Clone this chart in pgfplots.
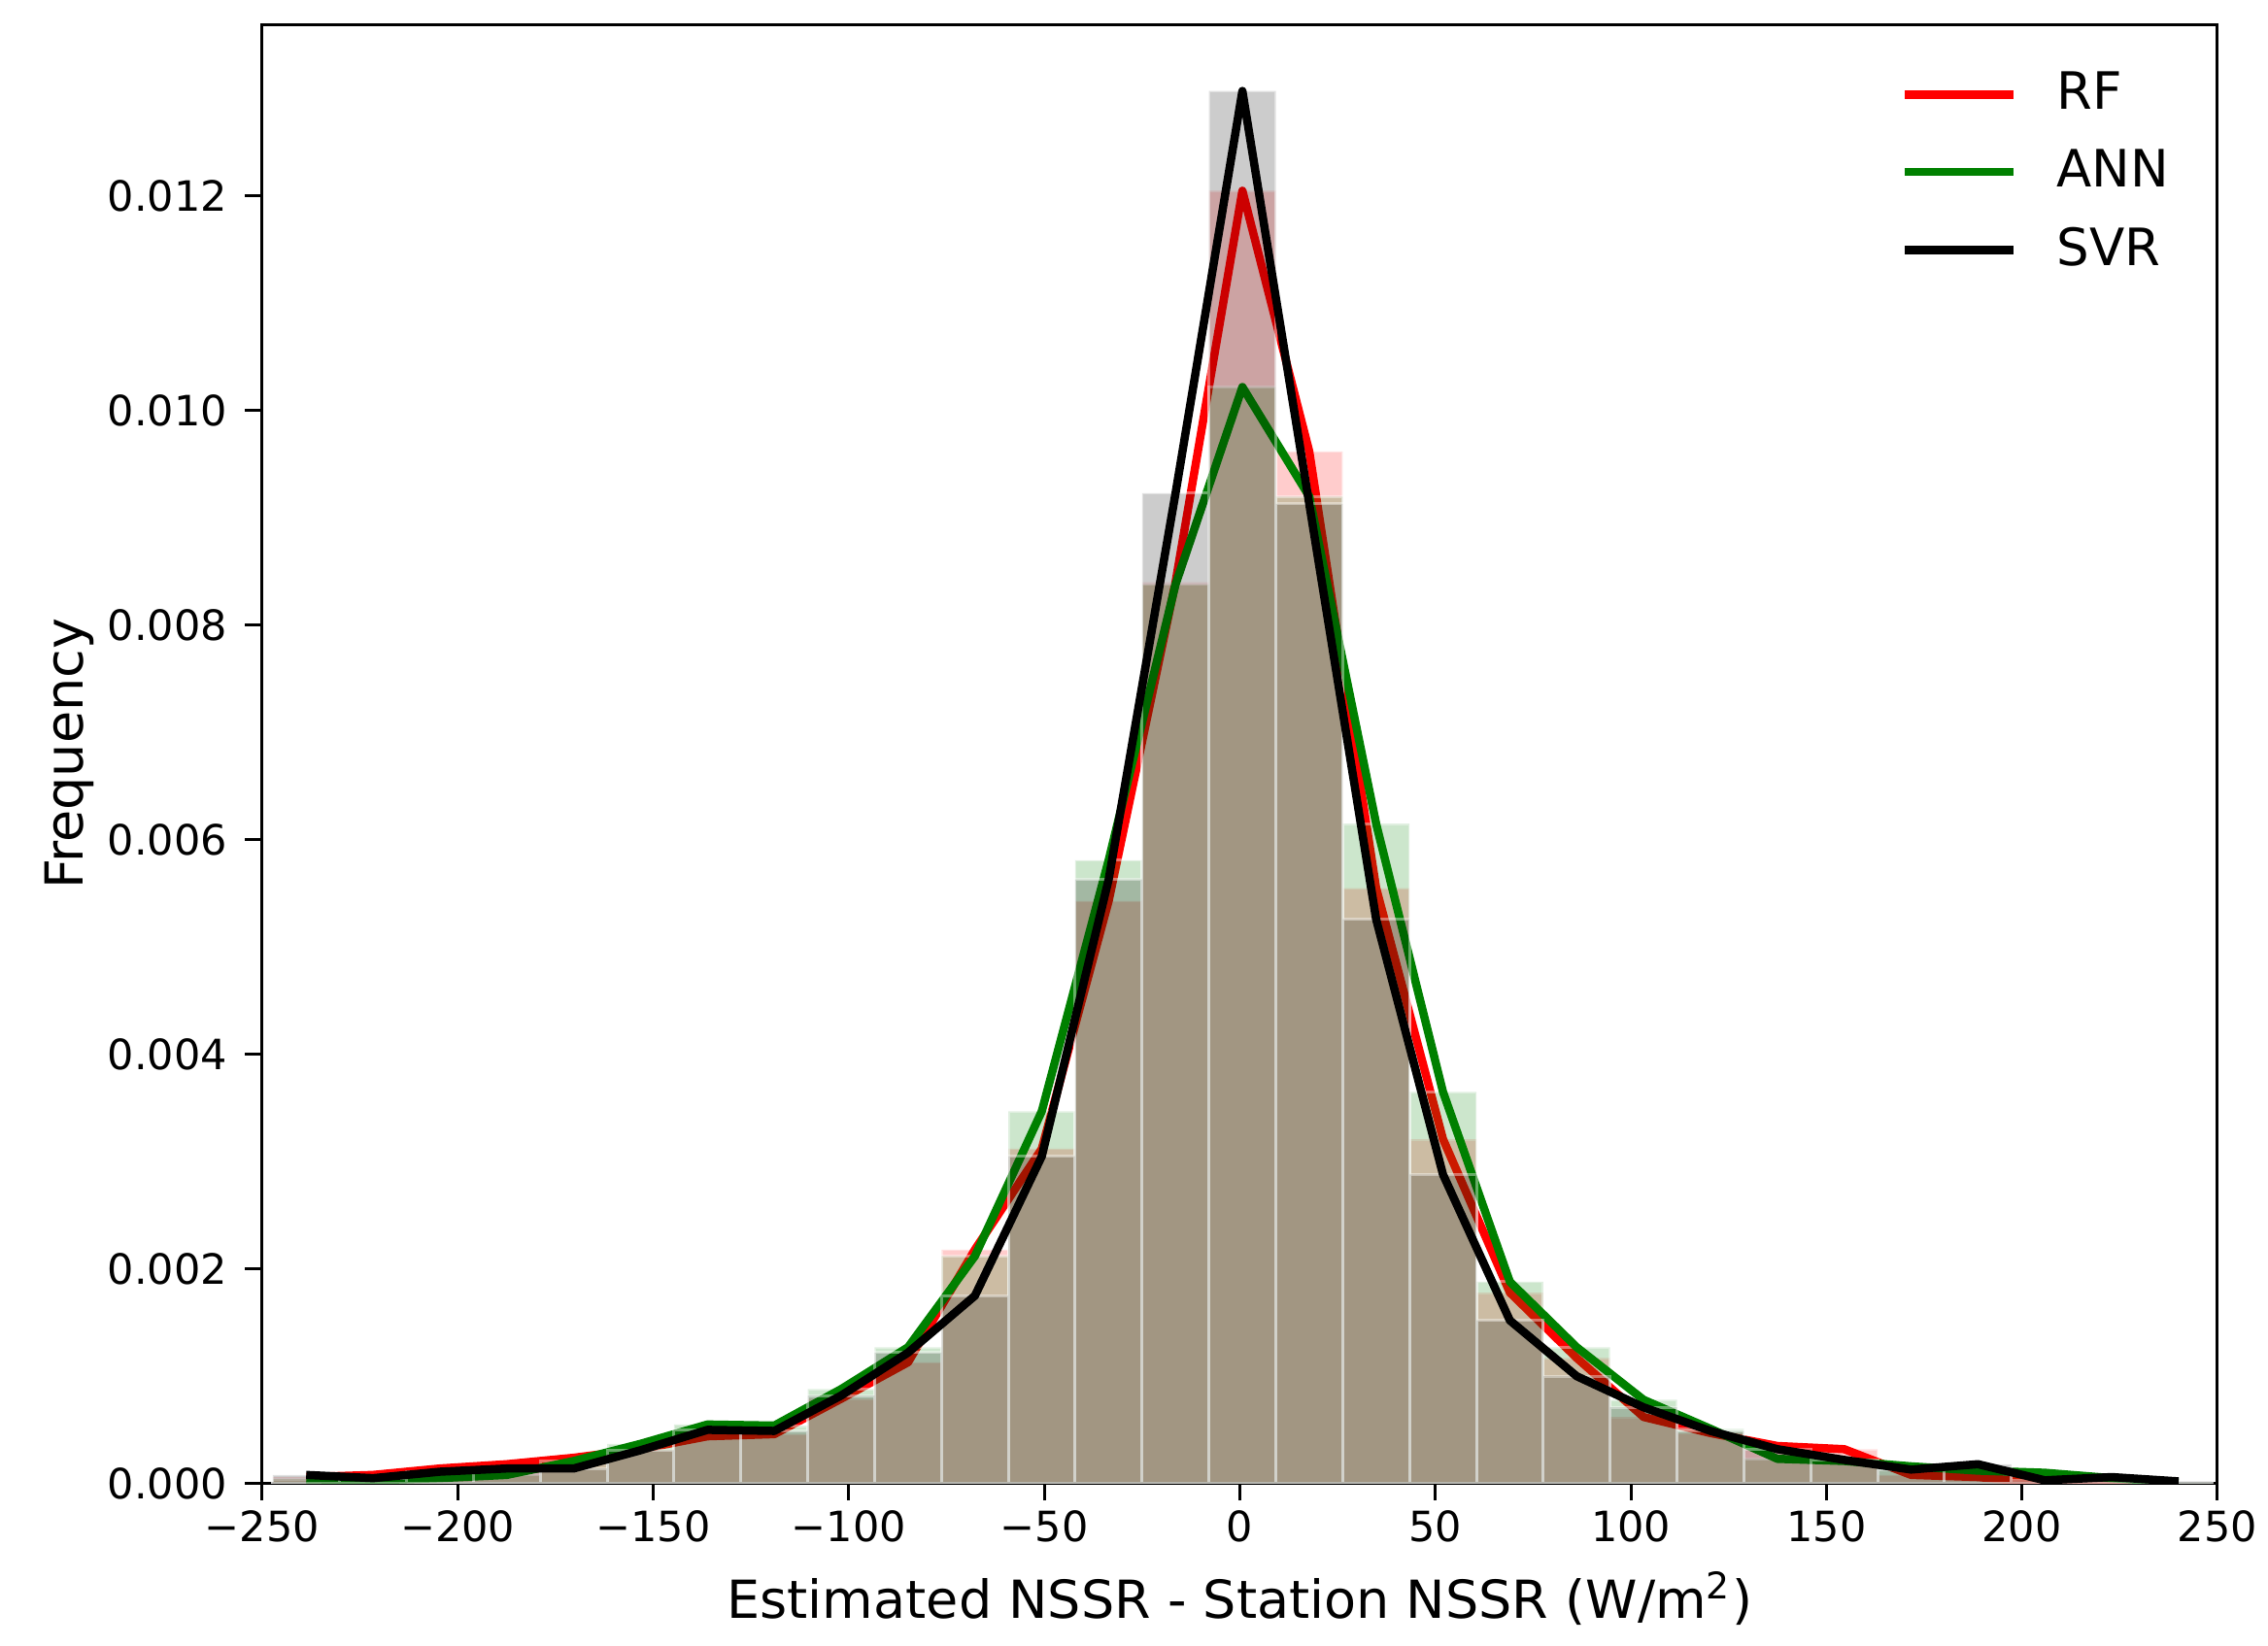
\documentclass[border=0pt]{standalone}
\usepackage{fontspec}
\setmainfont{DejaVu Sans}
\usepackage{pgfplots}
\usepackage{pgfplotstable}
\pgfplotsset{compat=1.18}
\definecolor{mplgreen}{RGB}{0,128,0}
\definecolor{mplred}{RGB}{255,0,0}

\pgfplotstableread{
x        rf       ann      svr
-238.75  0.00006  0.00004  0.00008
-221.65  0.00008  0.00003  0.00005
-204.55  0.00014  0.00005  0.00011
-187.45  0.00018  0.00008  0.00014
-170.35  0.00024  0.00021  0.00014
-153.25  0.00032  0.00037  0.00031
-136.15  0.00044  0.00055  0.00050
-119.05  0.00046  0.00054  0.00049
-101.95  0.00079  0.00088  0.00082
-84.85   0.00113  0.00127  0.00122
-67.75   0.00218  0.00212  0.00175
-50.65   0.00312  0.00347  0.00305
-33.55   0.00543  0.00581  0.00563
-16.45   0.00840  0.00838  0.00923
0.65     0.01205  0.01022  0.01298
17.75    0.00962  0.00920  0.00913
34.85    0.00555  0.00615  0.00526
51.95    0.00321  0.00365  0.00288
69.05    0.00178  0.00188  0.00152
86.15    0.00117  0.00127  0.00100
103.25   0.00062  0.00078  0.00071
120.35   0.00047  0.00051  0.00049
137.45   0.00035  0.00023  0.00032
154.55   0.00032  0.00021  0.00022
171.65   0.00008  0.00016  0.00013
188.75   0.00006  0.00012  0.00018
205.85   0.00000  0.00010  0.00003
222.95   0.00001  0.00005  0.00006
240.05   0.00000  0.00001  0.00002
}\datatable

\begin{document}
\begin{tikzpicture}
\useasboundingbox (0,0) rectangle (467pt,339pt);
\begin{axis}[
  at={(54pt,33.46pt)}, anchor=south west,
  scale only axis, width=402.6pt, height=300.5pt,
  xmin=-250, xmax=250, ymin=0, ymax=0.0136,
  scaled ticks=false,
  xtick={-250,-200,-150,-100,-50,0,50,100,150,200,250},
  xticklabels={−250,−200,−150,−100,−50,0,50,100,150,200,250},
  ytick={0,0.002,0.004,0.006,0.008,0.010,0.012},
  yticklabels={0.000,0.002,0.004,0.006,0.008,0.010,0.012},
  tick align=outside, xtick pos=bottom, ytick pos=left,
  major tick length=3.5pt,
  tick style={line width=0.6pt, black},
  axis line style={line width=0.6pt, black},
  xticklabel style={font=\fontsize{8.6}{10}\selectfont, inner sep=0pt, anchor=north, yshift=-1.8pt},
  yticklabel style={font=\fontsize{8.6}{10}\selectfont, inner sep=0pt, anchor=east, xshift=-3.5pt},
  xlabel={Estimated NSSR - Station NSSR (W/m\textsuperscript{2})},
  xlabel style={font=\fontsize{10.8}{13}\selectfont, at={(axis description cs:0.5,0)}, anchor=base, yshift=-27.7pt, inner sep=0pt},
  ylabel={Frequency},
  ylabel style={font=\fontsize{10.8}{13}\selectfont, at={(axis description cs:-0.0986,0.5)}, anchor=center, inner sep=0pt},
  legend style={draw=none, fill=none, at={(rel axis cs:0.8375,0.968)}, anchor=north west,
    font=\fontsize{10.6}{12}\selectfont, row sep=6.76pt, column sep=8.0pt, inner sep=0pt,
    nodes={inner sep=0pt}},
  legend cell align=left,
  legend image code/.code={\draw[#1, line width=1.7pt] (0pt,0pt) -- (22.4pt,0pt);},
]
\addplot[ybar, bar width=17.1, bar shift=0pt, fill=mplred, fill opacity=0.2, draw=white, draw opacity=0.4, line width=0.6pt, forget plot] table[x=x,y=rf]{\datatable};
\addplot[mplred, line width=1.7pt, line join=round, mark=none] table[x=x,y=rf]{\datatable};
\addlegendentry{RF}
\addplot[ybar, bar width=17.1, bar shift=0pt, fill=mplgreen, fill opacity=0.2, draw=white, draw opacity=0.4, line width=0.6pt, forget plot] table[x=x,y=ann]{\datatable};
\addplot[mplgreen, line width=1.7pt, line join=round, mark=none] table[x=x,y=ann]{\datatable};
\addlegendentry{ANN}
\addplot[ybar, bar width=17.1, bar shift=0pt, fill=black, fill opacity=0.2, draw=white, draw opacity=0.4, line width=0.6pt, forget plot] table[x=x,y=svr]{\datatable};
\addplot[black, line width=1.7pt, line join=round, mark=none] table[x=x,y=svr]{\datatable};
\addlegendentry{SVR}
\end{axis}
\end{tikzpicture}
\end{document}
